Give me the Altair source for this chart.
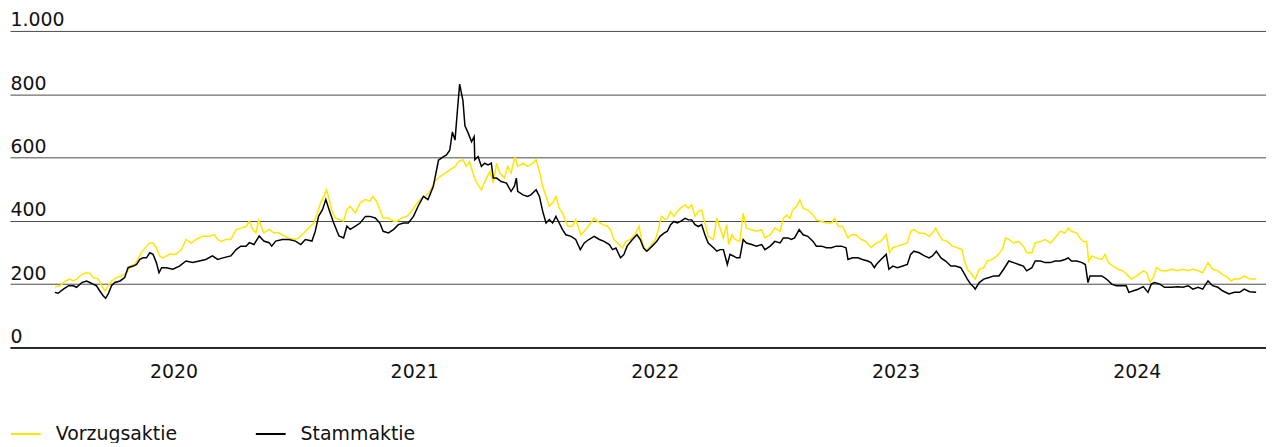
import altair as alt
import pandas as pd

# ---- data (days since 2020-01-01, index value) ----
vz_days = [2,10,18,25,30,35,43,50,55,60,68,73,78,83,88,96,103,111,116,123,128,133,141,146,151,156,161,166,176,186,194,201,209,216,226,236,244,249,254,261,269,277,284,292,
           297,302,307,311,314,319,327,334,342,350,357,365,372,380,387,395,400,405,410,414,417,422,427,433,440,445,450,458,465,473,480,484,490,495,500,508,516,521,528,536,543,548,556,563,571,578,586,594,601,609,
           614,621,626,631,636,641,649,654,662,667,672,677,684,689,694,700,704,712,719,727,732,737,742,747,752,757,762,767,772,780,787,792,800,807,815,820,825,833,840,845,850,858,863,868,875,883,888,893,898,905,913,918,922,928,
           931,936,941,946,951,958,963,968,973,978,983,988,993,1001,1006,1011,1016,1021,1024,1029,1034,1041,1046,1051,1059,1066,1074,1079,1087,1094,1102,1107,1112,1117,1121,1127,1132,1137,1144,1152,1157,1165,1172,1180,1185,1190,1197,1205,1210,1217,1225,1232,1240,
           1248,1255,1263,1268,1273,1280,1288,1295,1300,1305,1313,1321,1328,1333,1338,1343,1348,1356,1363,1371,1378,1381,1386,1391,1396,1398,1404,1411,1416,1424,1431,1439,1444,1449,1456,1464,1471,1476,1484,1489,1497,1504,1512,1519,1527,
           1534,1539,1544,1552,1557,1562,1567,1570,1575,1582,1590,1595,1600,1607,1615,1622,1630,1635,1643,1653,1658,1663,1668,1673,1680,1688,1695,1705,1713,1721,1728,1736,1743,1751,1758,1766,1773,1781,1786,1791,1799,1806,1814,1824]
vz_vals = [192,195,210,216,210,216,231,236,234,221,216,195,178,195,210,221,226,236,257,262,278,299,320,330,330,315,289,283,294,294,309,341,330,341,351,351,356,341,335,341,341,372,377,382,
           399,373,362,402,388,362,373,362,362,352,346,341,346,362,378,393,425,456,477,498,477,435,409,404,399,435,446,425,456,467,462,477,462,435,409,409,399,399,409,414,430,446,467,477,493,524,540,550,561,571,
           587,593,572,587,551,524,498,524,556,519,582,551,535,572,551,603,572,582,572,582,593,556,509,477,446,456,477,440,425,383,383,404,356,372,393,409,398,388,383,372,341,325,314,335,341,361,383,330,304,320,341,377,414,404,
           408,429,414,429,440,450,440,450,414,429,434,393,351,341,408,377,346,388,325,356,341,335,424,377,372,367,372,346,356,377,367,408,418,408,434,445,466,440,434,419,403,398,393,393,408,382,382,346,356,356,341,335,315,
           330,335,356,299,315,320,325,330,367,372,361,361,351,361,377,356,340,335,320,315,309,278,247,236,221,216,247,252,273,278,289,309,346,341,330,335,320,299,299,330,335,341,330,346,367,
           361,377,367,361,346,335,335,273,289,283,278,294,268,257,247,242,226,216,226,242,236,205,221,252,242,242,247,242,247,242,247,242,236,268,247,242,231,221,210,216,216,226,216,216]

st_days = [2,7,15,23,30,35,43,50,55,60,65,70,75,79,83,88,93,101,108,113,121,126,131,136,141,146,151,156,160,164,171,181,191,201,211,221,231,241,249,257,269,277,284,292,
           297,304,312,319,327,331,337,347,357,367,375,382,392,397,402,408,413,418,425,433,440,445,450,458,465,473,480,488,495,500,508,516,523,531,538,546,553,561,568,576,584,591,596,601,605,609,613,616,619,621,
           624,629,634,638,639,644,649,654,659,664,667,672,679,687,694,699,702,704,712,719,724,732,737,742,747,752,757,762,767,772,777,785,792,799,805,812,820,828,835,843,848,853,860,865,870,878,885,890,895,900,908,915,920,926,
           931,936,941,946,951,958,963,968,973,978,983,988,993,1001,1006,1011,1016,1022,1026,1031,1036,1041,1046,1051,1059,1066,1074,1079,1087,1094,1102,1107,1114,1119,1124,1131,1137,1144,1152,1157,1165,1172,1180,1187,1195,1202,1205,1212,1220,1227,1235,1240,1245,
           1248,1255,1263,1267,1273,1280,1288,1295,1300,1305,1313,1321,1328,1333,1339,1346,1353,1361,1368,1376,1379,1386,1391,1396,1398,1404,1411,1419,1426,1434,1441,1449,1456,1464,1471,1476,1484,1489,1497,1504,1512,1519,1527,
           1534,1539,1544,1552,1560,1565,1569,1572,1580,1590,1597,1605,1612,1620,1627,1631,1638,1645,1653,1660,1665,1670,1678,1685,1695,1705,1713,1721,1728,1736,1743,1751,1758,1766,1773,1783,1791,1799,1806,1814,1824]
st_vals = [174,171,184,195,195,190,205,210,205,200,195,179,164,155,169,195,205,210,221,252,257,262,278,283,283,299,294,268,236,252,252,247,257,273,268,273,278,289,278,283,289,309,320,320,
           331,325,352,336,331,320,336,341,341,336,325,341,336,367,414,435,467,435,393,352,346,383,373,383,393,414,414,409,393,367,362,373,388,393,393,414,446,477,467,508,592,602,608,623,681,655,759,832,800,780,
           700,677,650,666,593,603,572,582,577,582,535,535,524,519,493,509,535,493,482,477,482,498,477,430,393,404,393,414,393,372,356,351,341,309,330,341,351,341,335,325,309,314,283,293,320,341,356,341,314,304,320,335,351,361,
           367,388,398,393,398,408,403,403,388,382,388,356,330,315,304,309,309,262,294,289,283,283,341,330,325,320,325,309,320,335,330,346,346,341,346,372,356,351,335,320,320,315,315,320,320,315,278,283,283,278,273,268,252,
           262,278,294,247,257,252,257,262,294,304,299,289,283,289,304,283,273,257,257,252,242,216,200,190,184,205,216,221,226,226,247,273,268,262,257,242,252,273,273,268,268,273,273,
           278,283,273,273,268,262,205,226,226,226,216,200,195,195,195,174,179,184,192,174,200,205,200,190,190,192,190,195,184,190,184,210,195,190,179,169,174,174,184,176,174]

series_names = ["Vorzugsaktie", "Stammaktie"]
series_colors = ["#FFE600", "#000000"]
y_ticks = [0, 200, 400, 600, 800, 1000]
years = [2020, 2021, 2022, 2023, 2024]

base_date = pd.Timestamp("2020-01-01")


def frame(days, vals, name):
    return pd.DataFrame({
        "date": base_date + pd.to_timedelta(days, unit="D"),
        "value": vals,
        "series": name,
    })


df = pd.concat([frame(vz_days, vz_vals, series_names[0]),
                frame(st_days, st_vals, series_names[1])], ignore_index=True)

FONT = "DejaVu Sans"

x_enc = alt.X(
    "date:T",
    scale=alt.Scale(domain=[alt.DateTime(year=2019, month=10, date=27),
                            alt.DateTime(year=2025, month=1, date=13)], nice=False),
    axis=alt.Axis(values=[alt.DateTime(year=y, month=7, date=1) for y in years],
                  format="%Y", ticks=False, grid=False, domain=True,
                  domainColor="#000000", domainWidth=1.5, labelFontSize=19,
                  labelPadding=15, labelFlush=False, labelColor="#111111",
                  labelFont=FONT, title=None),
)
y_enc = alt.Y(
    "value:Q",
    scale=alt.Scale(domain=[0, 1000], nice=False),
    axis=alt.Axis(values=y_ticks, grid=True, gridColor="#4a4a4a", gridWidth=1,
                  ticks=False, domain=False, labelAlign="left",
                  labelBaseline="alphabetic", labelPadding=0, labelOffset=-5,
                  labelFontSize=19, labelColor="#111111", labelFont=FONT,
                  labelExpr="replace(format(datum.value, ','), ',', '.')",
                  title=None),
)
color_enc = alt.Color(
    "series:N",
    scale=alt.Scale(domain=series_names, range=series_colors),
    legend=alt.Legend(orient="none", legendX=0, legendY=389, direction="horizontal",
                      title=None, symbolType="stroke", symbolSize=900,
                      symbolStrokeWidth=2, labelFontSize=19, labelFont=FONT,
                      labelColor="#111111", labelOffset=14, columnPadding=75,
                      padding=0),
)

base = alt.Chart(df).encode(x=x_enc, y=y_enc, color=color_enc)

yellow = base.transform_filter(alt.datum.series == series_names[0]).mark_line(strokeWidth=1.5)
black = base.transform_filter(alt.datum.series == series_names[1]).mark_line(strokeWidth=1.5)

chart = alt.layer(yellow, black).properties(
    width=1262, height=318,
    padding={"left": 2, "top": 22, "right": 0, "bottom": 95},
    autosize=alt.AutoSizeParams(type="none"),
).configure_view(stroke=None)

chart.save("out.html", embed_options={"renderer": "svg", "actions": False})
